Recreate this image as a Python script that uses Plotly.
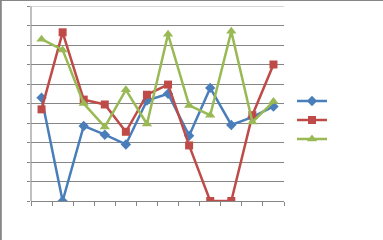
import plotly.graph_objects as go

categories = ["1", "2", "3", "4", "5", "6", "7", "8", "9", "10", "11", "12"]
series_blue = [5.3, 0.0, 3.85, 3.4, 2.9, 5.15, 5.5, 3.35, 5.8, 3.9, 4.3, 4.85]
series_red = [4.7, 8.65, 5.2, 4.95, 3.55, 5.45, 5.97, 2.85, 0.0, 0.0, 4.4, 7.0]
series_green = [8.3, 7.75, 5.0, 3.8, 5.7, 3.95, 8.55, 4.9, 4.4, 8.7, 4.05, 5.1]

fig = go.Figure()
fig.add_trace(go.Scatter(x=categories, y=series_blue, mode="lines+markers", name=" ",
                         line=dict(color="#4A7EBB", width=2.5),
                         marker=dict(symbol="diamond", size=8, color="#4A7EBB")))
fig.add_trace(go.Scatter(x=categories, y=series_red, mode="lines+markers", name=" ",
                         line=dict(color="#BE4B48", width=2.5),
                         marker=dict(symbol="square", size=8, color="#BE4B48")))
fig.add_trace(go.Scatter(x=categories, y=series_green, mode="lines+markers", name=" ",
                         line=dict(color="#98B954", width=2.5),
                         marker=dict(symbol="triangle-up", size=9, color="#98B954")))

W, H = 383, 240
ml, mr, mt, mb = 31, 99, 6, 39
pw, ph = W - ml - mr, H - mt - mb

def px_x(p):
    return (p - ml) / pw

def px_y(p):
    return (H - mb - p) / ph

fig.update_layout(
    width=W, height=H,
    margin=dict(l=ml, r=mr, t=mt, b=mb),
    paper_bgcolor="white", plot_bgcolor="white",
    showlegend=True,
    legend=dict(x=px_x(292), y=px_y(120), xanchor="left", yanchor="middle",
                font=dict(size=10, family="Liberation Sans"), bgcolor="rgba(0,0,0,0)",
                itemwidth=30),
    xaxis=dict(type="category", range=[-0.5, 11.5], showticklabels=False,
               tickson="boundaries", ticks="outside", ticklen=4, tickcolor="#868686",
               showline=True, linecolor="#868686", linewidth=1, showgrid=False,
               zeroline=False, fixedrange=True),
    yaxis=dict(range=[0, 10], dtick=1, showticklabels=False, ticks="outside",
               ticklen=3, tickcolor="#868686", showgrid=True, gridcolor="#868686",
               gridwidth=1, showline=False, zeroline=False, fixedrange=True),
    shapes=[
        dict(type="line", xref="paper", yref="y", x0=0, x1=1, y0=10, y1=10,
             line=dict(color="#C8C8C8", width=1.5), layer="below"),
        dict(type="line", xref="paper", yref="y", x0=0, x1=0, y0=10, y1=-0.2,
             line=dict(color="#C0C0C0", width=2), layer="below"),
        dict(type="line", xref="paper", yref="paper", x0=px_x(0.8), x1=px_x(0.8),
             y0=px_y(0), y1=px_y(240), line=dict(color="#868686", width=2)),
        dict(type="line", xref="paper", yref="paper", x0=px_x(0), x1=px_x(383),
             y0=px_y(0.5), y1=px_y(0.5), line=dict(color="#868686", width=1)),
    ],
)

fig.write_html("out.html")
